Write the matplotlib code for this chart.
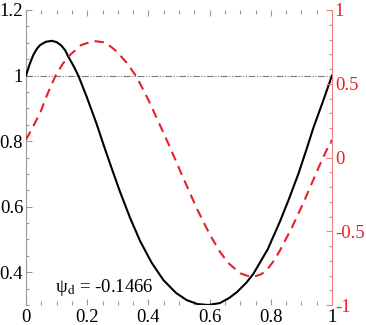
import matplotlib
matplotlib.use("Agg")
import matplotlib.pyplot as plt
from matplotlib.ticker import MultipleLocator, FuncFormatter

plt.rcParams['font.family'] = ['Liberation Serif', 'DejaVu Serif']
plt.rcParams['mathtext.fontset'] = 'stix'

# black curve (left axis)
x_black = [0.0, 0.012, 0.024, 0.035, 0.046, 0.065, 0.084, 0.10, 0.115, 0.128,
           0.138, 0.155, 0.171, 0.198, 0.231, 0.253, 0.28, 0.307, 0.34, 0.373,
           0.41, 0.449, 0.49, 0.525, 0.56, 0.596, 0.634, 0.665, 0.69, 0.72,
           0.743, 0.79, 0.83, 0.86, 0.89, 0.915, 0.939, 0.97, 1.0]
y_black = [1.0, 1.035, 1.063, 1.081, 1.093, 1.103, 1.106, 1.102, 1.092, 1.077,
           1.058, 1.03, 1.0, 0.936, 0.852, 0.79, 0.717, 0.646, 0.566, 0.495,
           0.43, 0.376, 0.337, 0.315, 0.303, 0.30, 0.306, 0.322, 0.340, 0.368,
           0.395, 0.47, 0.555, 0.625, 0.70, 0.77, 0.84, 0.92, 1.0]

# red dashed curve (right axis)
x_red = [0.0, 0.023, 0.046, 0.07, 0.095, 0.12, 0.144, 0.18, 0.22, 0.26,
         0.296, 0.33, 0.362, 0.40, 0.43, 0.465, 0.51, 0.558, 0.6, 0.634,
         0.661, 0.70, 0.72, 0.743, 0.77, 0.79, 0.81, 0.83, 0.87, 0.906,
         0.935, 0.958, 0.98, 1.0]
y_red = [0.12, 0.21, 0.30, 0.43, 0.548, 0.635, 0.695, 0.762, 0.79, 0.78,
         0.72, 0.64, 0.545, 0.39, 0.255, 0.095, -0.12, -0.345, -0.52, -0.64,
         -0.715, -0.785, -0.80, -0.81, -0.79, -0.755, -0.70, -0.63, -0.47, -0.31,
         -0.17, -0.06, 0.04, 0.12]

ref_level = 1.0
annot = "ψ$_{\\mathrm{d}}$ = -0.1466"

x_ticks = [0, 0.2, 0.4, 0.6, 0.8, 1.0]
left_ticks = [0.4, 0.6, 0.8, 1.0, 1.2]
right_ticks = [-1, -0.5, 0, 0.5, 1]

def fmt(v, pos=None):
    return f"{v:g}"

fig = plt.figure(figsize=(3.66, 3.25), dpi=100)
ax = fig.add_axes([26/366, 1-305/325, (332-26)/366, (305-10)/325])
ax2 = ax.twinx()

ax.plot(x_black, y_black, color='black', lw=1.5, zorder=3)
ax.axhline(ref_level, color='#777777', lw=0.8, dashes=(6, 1.5, 1, 1.5, 1, 1.5), zorder=2)
ax2.plot(x_red, y_red, color='#e8202a', lw=1.5, dashes=(4.5, 3))

ax.set_xlim(0, 1)
ax.set_ylim(0.3, 1.2)
ax2.set_ylim(-1, 1)

fs = 13.5
for a in (ax, ax2):
    a.spines['top'].set_visible(False)
    a.spines['bottom'].set_visible(False)
ax.spines['right'].set_visible(False)
ax.spines['left'].set_color('#999999')
ax.spines['left'].set_linewidth(0.8)
ax2.spines['left'].set_visible(False)
ax2.spines['right'].set_color('#f08080')
ax2.spines['right'].set_linewidth(0.8)

ax.set_xticks(x_ticks)
ax.xaxis.set_minor_locator(MultipleLocator(0.05))
ax.xaxis.set_major_formatter(FuncFormatter(fmt))
ax.tick_params(axis='x', which='both', direction='in', top=True, bottom=True,
               color='#999999', width=0.8, labelsize=fs, pad=3)
ax.tick_params(axis='x', which='major', length=4)
ax.tick_params(axis='x', which='minor', length=3)

ax.set_yticks(left_ticks)
ax.yaxis.set_minor_locator(MultipleLocator(0.05))
ax.yaxis.set_major_formatter(FuncFormatter(fmt))
ax.tick_params(axis='y', which='both', direction='in', left=True, right=False,
               color='#999999', width=0.8, labelsize=fs, pad=2)
ax.tick_params(axis='y', which='major', length=4)
ax.tick_params(axis='y', which='minor', length=2.5)

ax2.set_yticks(right_ticks)
ax2.yaxis.set_minor_locator(MultipleLocator(0.1))
ax2.yaxis.set_major_formatter(FuncFormatter(fmt))
ax2.tick_params(axis='y', which='both', direction='in', right=True, left=False,
                color='#f08080', width=0.8, labelsize=fs, labelcolor='#e8202a', pad=2)
ax2.tick_params(axis='y', which='major', length=4)
ax2.tick_params(axis='y', which='minor', length=2.5)

ax.text(0.095, 0.34, annot, fontsize=fs, va='baseline', ha='left', zorder=5)

fig.savefig("out.png", dpi=100)
